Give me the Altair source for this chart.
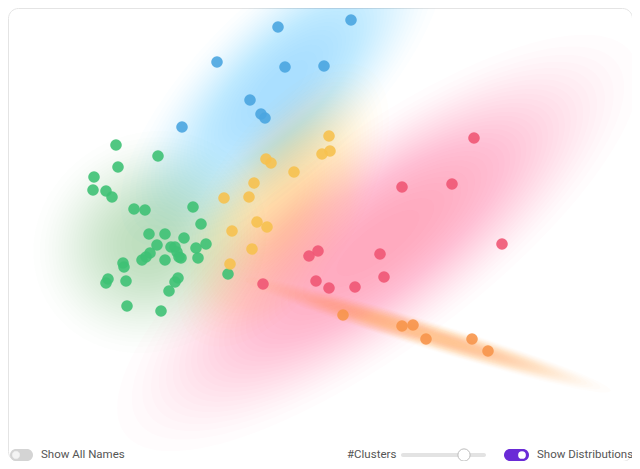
import altair as alt
import pandas as pd

# ---- data (in pixel-like units) ----
clusters = ["blue", "green", "yellow", "red", "orange"]
colors = ["#4aa5e0", "#3ec174", "#f6c14f", "#ef5774", "#f7954b"]
dist_colors = ["#4aa8e6", "#38c87a", "#f7c24a", "#ec5a88", "#f7924a"]

blue_x = [278, 351, 217, 285, 324, 250, 261, 265, 182]
blue_y = [27, 20, 62, 67, 66, 100, 114, 118, 127]

green_x = [116, 158, 118, 94, 93, 106, 112, 134, 145, 193, 201, 149, 165, 184, 206,
           157, 196, 171, 175, 177, 179, 150, 146, 142, 165, 181, 198, 123, 124, 108,
           106, 126, 178, 175, 169, 127, 161, 228]
green_y = [145, 156, 167, 177, 190, 191, 197, 209, 210, 207, 224, 234, 234, 238, 244,
           245, 248, 247, 247, 252, 257, 253, 257, 260, 260, 258, 258, 263, 267, 279,
           283, 281, 278, 282, 291, 306, 311, 274]

yellow_x = [329, 330, 322, 266, 271, 294, 254, 224, 249, 257, 267, 232, 252, 230]
yellow_y = [136, 151, 154, 159, 163, 172, 183, 198, 197, 222, 227, 231, 249, 264]

red_x = [474, 402, 452, 502, 380, 309, 318, 384, 263, 316, 329, 355]
red_y = [138, 187, 184, 244, 254, 256, 251, 277, 284, 281, 288, 287]

orange_x = [343, 402, 413, 426, 472, 488]
orange_y = [315, 326, 325, 339, 339, 351]

# distributions: centre, semi-axes and rotation (deg, clockwise)
dist_cx = [282, 150, 283, 378, 428]
dist_cy = [86, 242, 205, 243, 335]
dist_a = [228, 128, 172, 340, 205]
dist_b = [90, 116, 80, 112, 15]
dist_angle = [315, 330, 302, 323, 17]
dist_peak = [0.42, 0.34, 0.38, 0.42, 0.48]

# ---- tables ----
pts = []
for name, xs_, ys_ in zip(clusters, [blue_x, green_x, yellow_x, red_x, orange_x],
                          [blue_y, green_y, yellow_y, red_y, orange_y]):
    for x, y in zip(xs_, ys_):
        pts.append({"cluster": name, "x": x, "y": y})
pts = pd.DataFrame(pts)

# level scale factors: coverage falls off with a smoothstep between r0 and 1
N_LEVELS = 32
R0 = 0.08


def smooth(f):
    t = min(max((f - R0) / (1 - R0), 0.0), 1.0)
    return 3 * t * t - 2 * t ** 3


def inv_smooth(v):
    lo, hi = R0, 1.0
    for _ in range(40):
        mid = (lo + hi) / 2
        if smooth(mid) < v:
            lo = mid
        else:
            hi = mid
    return (lo + hi) / 2


levels = [inv_smooth(1 - (k - 0.5) / N_LEVELS) for k in range(1, N_LEVELS + 1)]

xs = alt.Scale(domain=[8, 632], nice=False, zero=False)
ys = alt.Scale(domain=[8, 461], nice=False, zero=False, reverse=True)

layers = []
for i, name in enumerate(clusters):
    r = dist_b[i] / dist_a[i]
    path = f"M -1 0 A 1 {r:.4f} 0 1 0 1 0 A 1 {r:.4f} 0 1 0 -1 0 Z"
    rows = [{"x": dist_cx[i], "y": dist_cy[i], "sz": (2 * dist_a[i] * f) ** 2,
             "ang": dist_angle[i]} for f in levels]
    d = pd.DataFrame(rows)
    op = 1 - (1 - dist_peak[i]) ** (1 / N_LEVELS)
    layers.append(
        alt.Chart(d).mark_point(shape=path, filled=True, strokeWidth=0,
                                opacity=op, color=dist_colors[i], clip=True)
        .encode(x=alt.X("x:Q", scale=xs, axis=None),
                y=alt.Y("y:Q", scale=ys, axis=None),
                size=alt.Size("sz:Q", scale=None, legend=None),
                angle=alt.Angle("ang:Q", scale=None))
    )

points = alt.Chart(pts).mark_circle(size=135, opacity=0.9).encode(
    x=alt.X("x:Q", scale=xs, axis=None),
    y=alt.Y("y:Q", scale=ys, axis=None),
    color=alt.Color("cluster:N", scale=alt.Scale(domain=clusters, range=colors), legend=None),
)

# ---- controls (decoration) ----
one = pd.DataFrame({"a": [0]})
O = 8  # page margin offset
CY = 455


def rect(x1, x2, y1, y2, fill, cr):
    return alt.Chart(one).mark_rect(color=fill, cornerRadius=cr).encode(
        x=alt.value(x1 - O), x2=alt.value(x2 - O), y=alt.value(y1 - O), y2=alt.value(y2 - O))


def knob(x, y, size, fill, stroke, sw):
    return alt.Chart(one).mark_point(filled=True, fill=fill, stroke=stroke, strokeWidth=sw,
                                     size=size, opacity=1, shape="circle").encode(
        x=alt.value(x - O), y=alt.value(y - O))


def label(x, y, t):
    return alt.Chart(one).mark_text(text=t, align="left", baseline="middle", fontSize=11.5,
                                    font="Roboto", color="#555555").encode(
        x=alt.value(x - O), y=alt.value(y - O))


controls = [
    rect(10, 33, CY - 6, CY + 6, "#d4d4d4", 6),
    knob(16, CY, 70, "#f4f4f4", "#cfcfcf", 0.5),
    label(41, CY, "Show All Names"),
    label(347, CY, "#Clusters"),
    rect(401, 486, CY - 2, CY + 2, "#e3e3e3", 2),
    knob(464, CY, 150, "#ffffff", "#bdbdbd", 1),
    rect(504, 529, CY - 6, CY + 6, "#6a2bd6", 6),
    knob(522, CY, 60, "#ffffff", "#ffffff", 0),
    label(537, CY, "Show Distributions"),
]

chart = alt.layer(*layers, points, *controls).properties(
    width=624, height=453, padding=0,
    autosize=alt.AutoSizeParams(type="none"),
    background="white",
).configure_view(stroke="#e4e4e4", cornerRadius=10)

chart.save("out.html", embed_options={"renderer": "svg", "actions": False})
